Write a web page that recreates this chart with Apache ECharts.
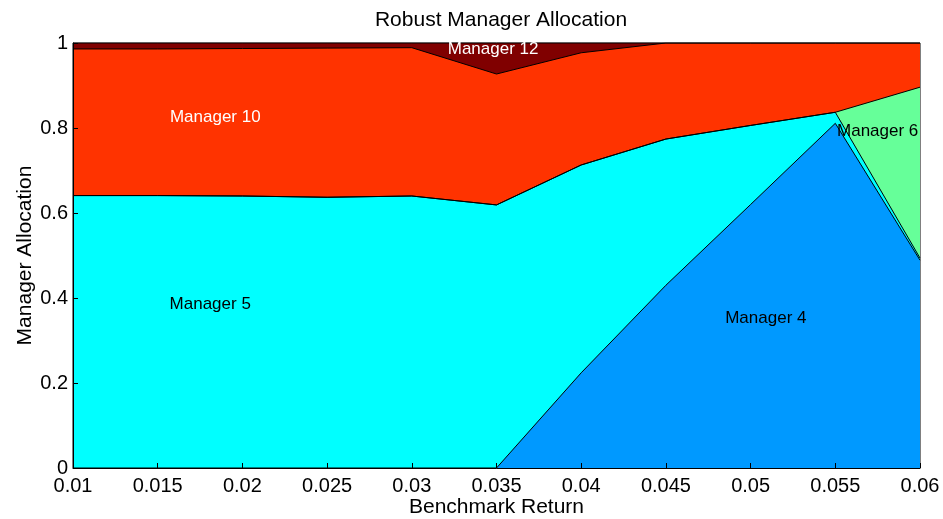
<!DOCTYPE html>
<html>
<head>
<meta charset="utf-8">
<script src="https://cdn.jsdelivr.net/npm/echarts@6/dist/echarts.min.js"></script>
<style>
  html, body { margin: 0; padding: 0; background: #fff; }
  #chart { width: 943px; height: 519px; }
</style>
</head>
<body>
<div id="chart"></div>
<script>
// Benchmark return levels
var benchmarkReturn = [0.01, 0.015, 0.02, 0.025, 0.03, 0.035, 0.04, 0.045, 0.05, 0.055, 0.06];

// Allocation shares per manager (stacked, bottom to top)
var manager4  = [0, 0, 0, 0, 0, 0, 0.224, 0.430, 0.620, 0.811, 0.489];
var manager5  = [0.641, 0.641, 0.640, 0.637, 0.640, 0.619, 0.489, 0.344, 0.186, 0.026, 0.005];
var manager6  = [0, 0, 0, 0, 0, 0, 0, 0, 0, 0, 0.402];
var manager10 = [0.345, 0.345, 0.347, 0.351, 0.349, 0.308, 0.264, 0.226, 0.194, 0.163, 0.104];
var manager12 = [0.014, 0.014, 0.013, 0.012, 0.011, 0.073, 0.023, 0, 0, 0, 0];

var seriesNames  = ['Manager 4', 'Manager 5', 'Manager 6', 'Manager 10', 'Manager 12'];
var seriesValues = [manager4, manager5, manager6, manager10, manager12];
var seriesColors = ['#0099ff', '#00ffff', '#66ff99', '#ff3300', '#800000'];

// In-plot label anchors [x, y] in data units, with text colour
var labelNames  = ['Manager 10', 'Manager 12', 'Manager 5', 'Manager 4', 'Manager 6'];
var labelAnchor = [[0.0184, 0.824], [0.0348, 0.986], [0.0181, 0.386], [0.0509, 0.353], [0.0575, 0.793]];
var labelColors = ['#ffffff', '#ffffff', '#000000', '#000000', '#000000'];

var FONT = 'Liberation Sans, Arial, Helvetica, sans-serif';

// Running totals: each band is drawn as the area under its cumulative top edge,
// painted from the top layer downwards so lower layers cover the upper ones.
var cumulative = [];
seriesValues.forEach(function (vals, i) {
  cumulative.push(vals.map(function (v, j) {
    return (i > 0 ? cumulative[i - 1][j] : 0) + v;
  }));
});

var series = [];
for (var i = seriesNames.length - 1; i >= 0; i--) {
  series.push({
    name: seriesNames[i],
    type: 'line',
    symbol: 'none',
    data: benchmarkReturn.map(function (x, j) { return [x, +cumulative[i][j].toFixed(4)]; }),
    lineStyle: { color: '#000', width: 1 },
    areaStyle: { color: seriesColors[i], opacity: 1, origin: 'start' },
    itemStyle: { color: seriesColors[i] },
    z: 2
  });
}

var chart = echarts.init(document.getElementById('chart'), null, { renderer: 'canvas' });

chart.setOption({
  animation: false,
  backgroundColor: '#ffffff',
  title: {
    text: 'Robust Manager Allocation',
    left: 496, top: 5,
    textAlign: 'center',
    textStyle: { fontFamily: FONT, fontSize: 21, fontWeight: 'normal', color: '#000' }
  },
  grid: {
    left: 73, right: 23, top: 43, bottom: 51,
    containLabel: false,
    outerBoundsMode: 'none',
    show: true, borderColor: '#000', borderWidth: 1, backgroundColor: 'transparent'
  },
  xAxis: {
    type: 'value',
    min: 0.01, max: 0.06, interval: 0.005,
    name: 'Benchmark Return',
    nameLocation: 'middle',
    nameGap: 29,
    nameMoveOverlap: false,
    nameTextStyle: { fontFamily: FONT, fontSize: 21, color: '#000' },
    axisLine: { show: true, lineStyle: { color: '#000', width: 1 } },
    axisTick: { show: true, inside: true, length: 5, lineStyle: { color: '#000' } },
    axisLabel: {
      fontFamily: FONT, fontSize: 20, color: '#000', margin: 8,
      formatter: function (v) { return String(+v.toFixed(3)); }
    },
    splitLine: { show: false },
    z: 5
  },
  yAxis: {
    type: 'value',
    min: 0, max: 1, interval: 0.2,
    name: 'Manager Allocation',
    nameLocation: 'middle',
    nameGap: 37,
    nameMoveOverlap: false,
    nameTextStyle: { fontFamily: FONT, fontSize: 21, color: '#000' },
    axisLine: { show: true, lineStyle: { color: '#000', width: 1 } },
    axisTick: { show: true, inside: true, length: 5, lineStyle: { color: '#000' } },
    axisLabel: {
      fontFamily: FONT, fontSize: 20, color: '#000', margin: 5,
      formatter: function (v) { return String(+v.toFixed(1)); }
    },
    splitLine: { show: false },
    z: 5
  },
  series: series
});

// Place area labels at their data-space anchors
var graphics = labelNames.map(function (t, i) {
  var p = chart.convertToPixel({ gridIndex: 0 }, labelAnchor[i]);
  return {
    type: 'text',
    x: p[0], y: p[1],
    z: 10,
    style: {
      text: t,
      fill: labelColors[i],
      font: '17px ' + FONT,
      textAlign: 'center',
      textVerticalAlign: 'middle'
    }
  };
});
chart.setOption({ graphic: graphics });
</script>
</body>
</html>
